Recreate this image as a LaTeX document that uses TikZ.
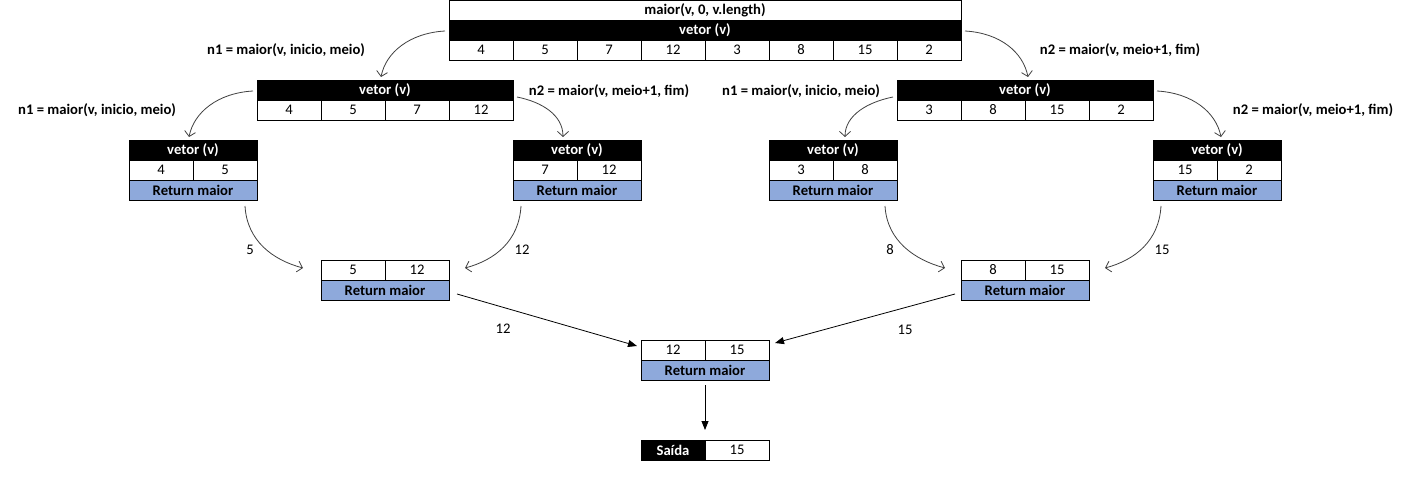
\documentclass[tikz,border=0pt]{standalone}
\usepackage{fontspec}
\setmainfont{Carlito}
\usetikzlibrary{arrows.meta,calc}
\definecolor{retblue}{HTML}{8EA9DB}
\definecolor{curvegray}{HTML}{404040}
\newcommand{\fs}{\fontsize{14.67}{17}\selectfont}
\begin{document}
\begin{tikzpicture}[x=1pt,y=-1pt,
  every node/.style={font=\fs, inner sep=0pt, outer sep=0pt},
  cell/.style={draw, line width=0.9pt, minimum width=64pt, minimum height=20pt, fill=white},
  head/.style={cell, fill=black, text=white, font=\fs\bfseries},
  ret/.style={cell, fill=retblue, font=\fs\bfseries, minimum width=128pt},
  lbl/.style={font=\fs\bfseries},
  curv/.style={draw=curvegray, line width=0.8pt, -{Straight Barb[length=5pt,width=11pt]}},
  strt/.style={draw=black, line width=0.8pt, -{Triangle[length=9pt,width=7pt]}}]
\useasboundingbox[fill=white] (0,0) rectangle (1410,484);

% top table
\node[cell, minimum width=512pt, font=\fs\bfseries] (title) at (705,10) {maior(v, 0, v.length)};
\node[head, minimum width=512pt] (tv) at (705,30) {vetor (v)};
\foreach \v [count=\i from 0] in {4,5,7,12,3,8,15,2}
  \node[cell] (t\i) at (481+64*\i,50) {\v};

% level 2
\node[head, minimum width=256pt] (lv) at (385,90) {vetor (v)};
\foreach \v [count=\i from 0] in {4,5,7,12}
  \node[cell] (la\i) at (289+64*\i,110) {\v};
\node[head, minimum width=256pt] (rv) at (1025,90) {vetor (v)};
\foreach \v [count=\i from 0] in {3,8,15,2}
  \node[cell] (ra\i) at (929+64*\i,110) {\v};

% level 3
\foreach \n/\cx/\a/\b in {A/193/4/5, B/577/7/12, C/833/3/8, D/1217/15/2}{
  \node[head, minimum width=128pt] (v\n) at (\cx,150) {vetor (v)};
  \node[cell] (c\n0) at (\cx-32,170) {\a};
  \node[cell] (c\n1) at (\cx+32,170) {\b};
  \node[ret] (r\n) at (\cx,190) {Return maior};
}

% level 4 and 5
\foreach \n/\cx/\cy/\a/\b in {E/385/270/5/12, F/1025/270/8/15, G/705/350/12/15}{
  \node[cell] (c\n0) at (\cx-32,\cy) {\a};
  \node[cell] (c\n1) at (\cx+32,\cy) {\b};
  \node[ret] (r\n) at (\cx,\cy+20) {Return maior};
}

% output
\node[head] (sa) at (673,450) {Saída};
\node[cell] (so) at (737,450) {15};

% labels
\node[lbl] (l1) at (286,50) {n1 = maior(v, inicio, meio)};
\node[lbl] (l2) at (1120,50) {n2 = maior(v, meio+1, fim)};
\node[lbl] (l3) at (97,110) {n1 = maior(v, inicio, meio)};
\node[lbl] (l4) at (609,91) {n2 = maior(v, meio+1, fim)};
\node[lbl] (l5) at (801,91) {n1 = maior(v, inicio, meio)};
\node[lbl] (l6) at (1313,110) {n2 = maior(v, meio+1, fim)};
\node (m1) at (250,250) {5};
\node (m2) at (522,250) {12};
\node (m3) at (890,250) {8};
\node (m4) at (1162,250) {15};
\node (m5) at (503,329) {12};
\node (m6) at (905,330) {15};

% connectors
\draw[curv] ($(tv.west)+(-4,1)$) .. controls +(-35,2) and +(5,-25) .. ($(lv.north)+(-4,-3)$);
\draw[curv] ($(tv.east)+(4,1)$) .. controls +(35,2) and +(-5,-25) .. ($(rv.north)+(3,-3)$);
\draw[curv] ($(lv.west)+(-4,1)$) .. controls +(-35,2) and +(5,-25) .. ($(vA.north)+(-4,-3)$);
\draw[curv] ($(lv.east)+(4,7)$) .. controls +(25,5) and +(0,-22) .. ($(vB.north)+(-14,-3)$);
\draw[curv] ($(rv.west)+(-4,7)$) .. controls +(-25,5) and +(0,-22) .. ($(vC.north)+(12,-3)$);
\draw[curv] ($(rv.east)+(4,1)$) .. controls +(35,2) and +(-5,-25) .. ($(vD.north)+(4,-3)$);
\draw[curv] ($(rA.south)+(52,6)$) .. controls +(2,35) and +(-30,-8) .. ($(cE0.west)+(-18,-2)$);
\draw[curv] ($(rB.south)+(-56,6)$) .. controls +(-2,35) and +(30,-8) .. ($(cE1.east)+(16,-2)$);
\draw[curv] ($(rC.south)+(52,6)$) .. controls +(2,35) and +(-30,-8) .. ($(cF0.west)+(-16,-2)$);
\draw[curv] ($(rD.south)+(-56,6)$) .. controls +(-2,35) and +(30,-8) .. ($(cF1.east)+(16,-2)$);
\draw[strt] ($(rE.east)+(8,4)$) -- ($(cG0.west)+(-4,-4)$);
\draw[strt] ($(rF.west)+(-6,4)$) -- ($(cG1.east)+(6,-7)$);
\draw[strt] ($(rG.south)+(0,5)$) -- ($(so.west)+(0,-20)$);
\end{tikzpicture}
\end{document}
